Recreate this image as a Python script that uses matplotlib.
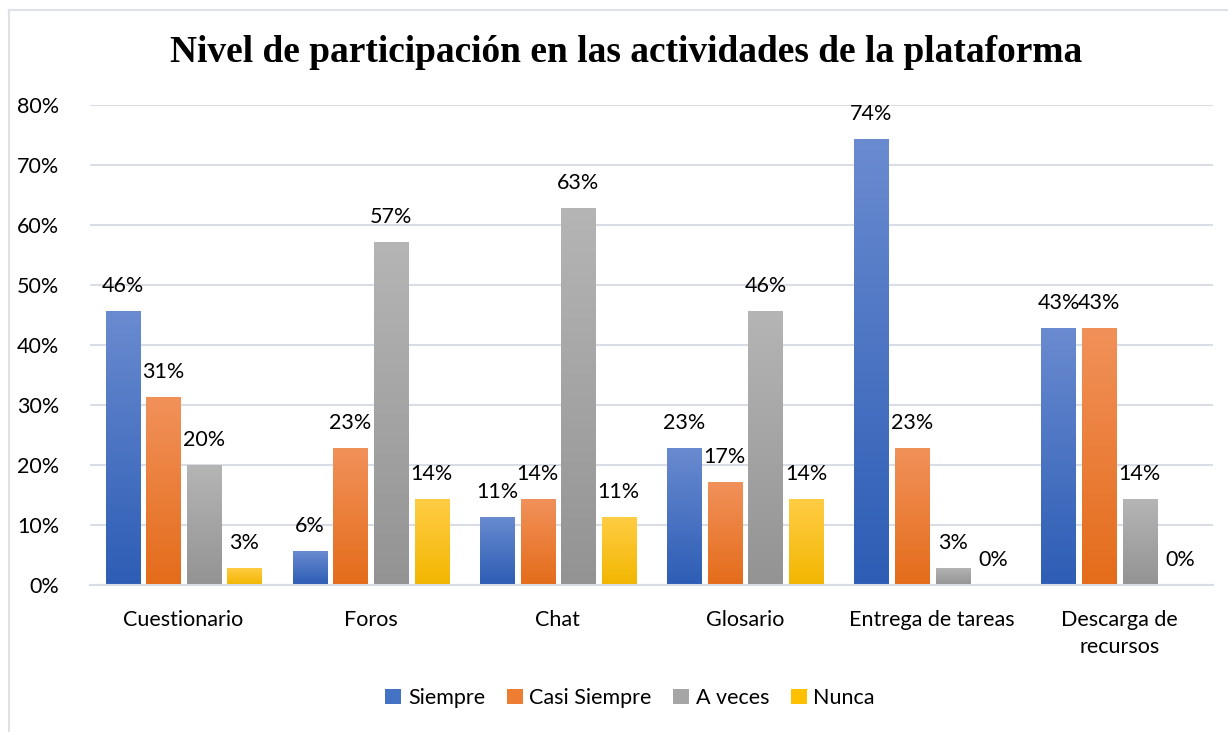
import matplotlib
matplotlib.use("Agg")
import matplotlib.pyplot as plt
import numpy as np
from matplotlib.colors import LinearSegmentedColormap
from matplotlib.patches import Patch
from matplotlib.lines import Line2D

categories = ["Cuestionario", "Foros", "Chat", "Glosario", "Entrega de tareas", "Descarga de\nrecursos"]
series_names = ["Siempre", "Casi Siempre", "A veces", "Nunca"]
siempre = [45.7, 5.7, 11.4, 22.9, 74.3, 42.9]
casi_siempre = [31.4, 22.9, 14.3, 17.1, 22.9, 42.9]
a_veces = [20.0, 57.1, 62.9, 45.7, 2.9, 14.3]
nunca = [2.9, 14.3, 11.4, 14.3, 0.0, 0.0]
series_values = [siempre, casi_siempre, a_veces, nunca]
yticks = [0, 10, 20, 30, 40, 50, 60, 70, 80]

title = "Nivel de participación en las actividades de la plataforma"
base_colors = ["#4472C4", "#ED7D31", "#A5A5A5", "#FFC000"]
grad = [("#6A8BD0", "#2D5DB5"), ("#F1915A", "#E46C1A"), ("#B5B5B5", "#939393"), ("#FFCD45", "#F2B600")]

W, H = 1228, 732
fig = plt.figure(figsize=(W / 100, H / 100), dpi=100)
ax = fig.add_axes([90 / W, (H - 585) / H, (1213 - 90) / W, (585 - 105) / H])

font = "Lato"
fs = 15.5
x = np.arange(len(categories))
pitch = 0.217
width = 0.182
for i, vals in enumerate(series_values):
    offs = (i - 1.5) * pitch
    bars = ax.bar(x + offs, vals, width=width, color=base_colors[i], zorder=2)
    cmap = LinearSegmentedColormap.from_list("g%d" % i, [grad[i][1], grad[i][0]])
    for b, v in zip(bars, vals):
        if v > 0:
            bx, by = b.get_x(), b.get_y()
            bw, bh = b.get_width(), b.get_height()
            im = ax.imshow(np.linspace(0, 1, 256).reshape(-1, 1), cmap=cmap, origin="lower",
                           extent=[bx, bx + bw, by, by + bh], aspect="auto", zorder=2.5)
            im.set_clip_path(b)
        ax.annotate("%d%%" % round(v), (b.get_x() + b.get_width() / 2, v),
                    xytext=(0, 15), textcoords="offset pixels", ha="center", va="bottom",
                    fontsize=fs, family=font, color="#000000", zorder=3)

ax.set_xlim(-0.5, len(categories) - 0.5)
ax.set_ylim(0, 80)
ax.set_yticks(yticks)
ax.set_yticklabels(["%d%%" % t for t in yticks], family=font, fontsize=fs)
ax.set_xticks(x)
ax.set_xticklabels(categories, family=font, fontsize=fs, linespacing=1.45)
ax.tick_params(axis="both", length=0)
ax.tick_params(axis="y", pad=22)
ax.tick_params(axis="x", pad=18)
ax.grid(axis="y", color="#D9DEE6", linewidth=1.5, zorder=0)
ax.set_axisbelow(True)
for s in ["top", "right", "left"]:
    ax.spines[s].set_visible(False)
ax.spines["bottom"].set_color("#D9DEE6")
ax.spines["bottom"].set_linewidth(1.5)

fig.text(626 / W, 1 - 52 / H, title, ha="center", va="center", family="Liberation Serif",
         fontweight="bold", fontsize=26.9)

handles = [Patch(facecolor=c) for c in base_colors]
fig.legend(handles, series_names, loc="center", bbox_to_anchor=(630 / W, 1 - 698 / H), ncol=4,
           frameon=False, prop={"family": font, "size": fs}, handlelength=0.75, handleheight=0.75,
           handletextpad=0.3, columnspacing=1.0)

# chart frame (top and left edges visible)
fig.add_artist(Line2D([9 / W, 1.0], [1 - 10 / H, 1 - 10 / H], color="#DDE2EA", linewidth=1.5))
fig.add_artist(Line2D([9 / W, 9 / W], [0, 1 - 10 / H], color="#DDE2EA", linewidth=1.5))

fig.savefig("out.png", dpi=100)
